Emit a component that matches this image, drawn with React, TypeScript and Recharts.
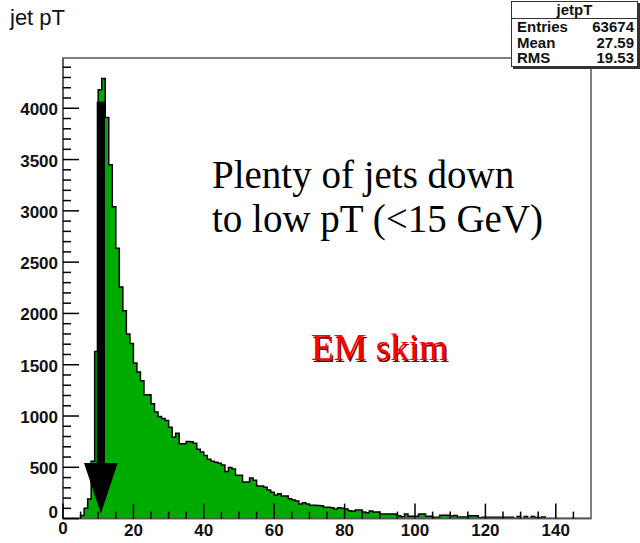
import { ComposedChart, Area, XAxis, YAxis, ReferenceArea } from 'recharts';

// jet pT histogram, 1 GeV bins from 0 to 150
const binCounts = [
  0, 0, 0, 0, 0, 30, 100, 190, 560, 1630,
  4180, 4290, 3910, 3450, 3040, 2635, 2257, 2025, 1800, 1708,
  1516, 1430, 1345, 1207, 1207, 1119, 1040, 995, 976, 956,
  891, 794, 833, 729, 729, 751, 748, 735, 677, 650,
  614, 579, 560, 550, 540, 523, 458, 497, 484, 423,
  423, 357, 357, 396, 374, 318, 318, 306, 279, 257,
  230, 243, 221, 221, 194, 182, 172, 143, 155, 143,
  130, 130, 128, 126, 110, 110, 106, 94, 106, 100,
  94, 77, 71, 84, 84, 65, 58, 74, 64, 64,
  45, 45, 44, 45, 45, 28, 19, 45, 22, 22,
  22, 45, 45, 22, 22, 13, 13, 32, 32, 32,
  25, 30, 15, 15, 15, 28, 28, 28, 8, 12,
  12, 12, 12, 12, 12, 12, 12, 12, 0, 20,
  0, 20, 0, 20, 10, 10, 15, 0, 0, 0,
  0, 0, 0, 0, 0, 0, 0, 0, 0, 0,
];

const xTicks = [0, 5, 10, 15, 20, 25, 30, 35, 40, 45, 50, 55, 60, 65, 70, 75, 80, 85, 90, 95, 100, 105, 110, 115, 120, 125, 130, 135, 140, 145];
const yTicks = [
  0, 100, 200, 300, 400, 500, 600, 700, 800, 900, 1000, 1100, 1200, 1300, 1400, 1500,
  1600, 1700, 1800, 1900, 2000, 2100, 2200, 2300, 2400, 2500, 2600, 2700, 2800, 2900, 3000,
  3100, 3200, 3300, 3400, 3500, 3600, 3700, 3800, 3900, 4000, 4100, 4200, 4300, 4400,
];

const statsRows = [
  ['Entries', '63674'],
  ['Mean', '27.59'],
  ['RMS', '19.53'],
];

const data = binCounts.map((count, i) => ({ x: i, count })).concat([{ x: 150, count: 0 }]);

const labelFont = '"Liberation Sans Narrow", "Arial Narrow", "Liberation Sans", Arial, sans-serif';
const serif = '"Liberation Serif", "Times New Roman", serif';

function XTick(props: any) {
  const { x, y, payload } = props;
  const v = payload.value;
  const major = v % 20 === 0;
  return (
    <g>
      <line x1={x} x2={x} y1={y} y2={y - (major ? 15 : 7)} stroke="#000" strokeWidth={1.5} />
      {major && (
        <text x={x} y={y + (v === 0 ? 15 : 17)} textAnchor="middle" fontFamily={labelFont} fontWeight="bold" fontSize={17} fill="#111">
          {v}
        </text>
      )}
    </g>
  );
}

function YTick(props: any) {
  const { x, y, payload } = props;
  const v = payload.value;
  const major = v % 500 === 0;
  return (
    <g>
      <line x1={x} x2={x + (major ? 16 : 8)} y1={y} y2={y} stroke="#000" strokeWidth={1.5} />
      {major && (
        <text x={x - 5} y={y + (v === 0 ? -1 : 7)} textAnchor="end" fontFamily={labelFont} fontWeight="bold" fontSize={17} fill="#111">
          {v}
        </text>
      )}
    </g>
  );
}

export default function App() {
  return (
    <div style={{ position: 'absolute', left: 0, top: 0, width: 640, height: 543, background: '#fff' }}>
      <div style={{ position: 'absolute', left: 10, top: 5, fontFamily: labelFont, fontSize: 22, color: '#111' }}>jet pT</div>
      <ComposedChart width={640} height={543} data={data} margin={{ top: 58, right: 49, bottom: 0, left: 0 }}>
        <Area
          type="stepAfter"
          dataKey="count"
          fill="#00ab00"
          fillOpacity={1}
          stroke="#000"
          strokeWidth={1.5}
          dot={false}
          activeDot={false}
          isAnimationActive={false}
        />
        <ReferenceArea x1={0} x2={150} y1={0} y2={4490} fill="none" stroke="#555" strokeWidth={1.5} />
        <XAxis
          dataKey="x"
          type="number"
          domain={[0, 150]}
          ticks={xTicks}
          interval={0}
          tickSize={0}
          tickMargin={0}
          tickLine={false}
          height={24.4}
          axisLine={{ stroke: '#555', strokeWidth: 1.5 }}
          tick={XTick}
          allowDataOverflow
        />
        <YAxis
          type="number"
          domain={[0, 4490]}
          ticks={yTicks}
          interval={0}
          tickSize={0}
          tickMargin={0}
          tickLine={false}
          width={63}
          axisLine={{ stroke: '#555', strokeWidth: 1.5 }}
          tick={YTick}
          allowDataOverflow
        />
      </ComposedChart>
      <svg width={640} height={543} style={{ position: 'absolute', left: 0, top: 0, pointerEvents: 'none' }}>
        <rect x={96.7} y={101.7} width={8.3} height={362} fill="#000" />
        <polygon points="84,463 117.7,463 100.9,513.5" fill="#000" />
        <text x={212} y={188} fontFamily={serif} fontSize={39} fill="#000">
          Plenty of jets down
        </text>
        <text x={212} y={232} fontFamily={serif} fontSize={39} fill="#000">
          to low pT (&lt;15 GeV)
        </text>
        <text x={312.5} y={361.5} fontFamily={serif} fontSize={37} fill="#800000">
          EM skim
        </text>
        <text x={311} y={360} fontFamily={serif} fontSize={37} fill="#ff0000">
          EM skim
        </text>
      </svg>
      <div
        style={{
          position: 'absolute',
          left: 511,
          top: 1,
          width: 125,
          height: 64,
          background: '#fff',
          border: '1px solid #333',
          boxShadow: '2px 2px 0 #333',
          fontFamily: labelFont,
          fontWeight: 'bold',
          fontSize: 15,
          color: '#111',
        }}
      >
        <div style={{ textAlign: 'center', height: 16, lineHeight: '16px', borderBottom: '1px solid #333' }}>jetpT</div>
        {statsRows.map(([k, v]) => (
          <div key={k} style={{ display: 'flex', justifyContent: 'space-between', padding: '0 3px 0 5px', height: 15.5, lineHeight: '15.5px' }}>
            <span>{k}</span>
            <span>{v}</span>
          </div>
        ))}
      </div>
    </div>
  );
}
